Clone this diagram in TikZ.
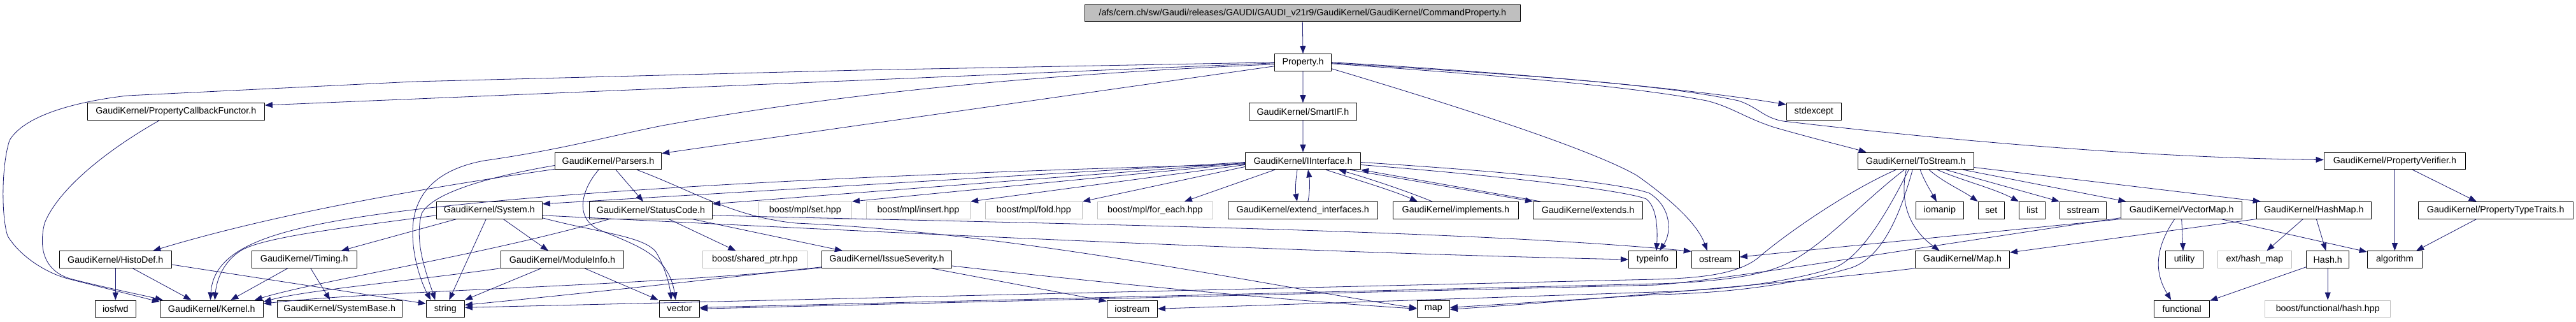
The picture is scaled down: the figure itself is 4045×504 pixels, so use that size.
\documentclass[tikz,border=0pt]{standalone}
\usepackage{fontspec}
\setmainfont{Liberation Sans}
\usetikzlibrary{arrows.meta,calc}
\definecolor{edgec}{RGB}{25,25,112}
\definecolor{grayb}{RGB}{191,191,191}
\begin{document}
\begin{tikzpicture}[x=1pt,y=-1pt,
  nb/.style={draw=black,line width=1.1pt,fill=white,minimum height=26.5pt,inner sep=0pt,font=\fontsize{14.3}{17}\selectfont},
  gb/.style={nb,draw=grayb},
  tb/.style={nb,fill=grayb},
  ed/.style={draw=edgec,line width=0.8pt,-{Triangle[length=12pt,width=9pt]}}]
\fill[white] (0,0) rectangle (4045,504);
\useasboundingbox (0,0) rectangle (4045,504);
% row 0-3
\node[tb,minimum width=684.4] (top) at (2045.3,20.3) {/afs/cern.ch/sw/Gaudi/releases/GAUDI/GAUDI\_v21r9/GaudiKernel/GaudiKernel/CommandProperty.h};
\node[nb,minimum width=89.3] (prop) at (2046,97.8) {Property.h};
\node[nb,minimum width=278] (pcf) at (276.3,175) {GaudiKernel/PropertyCallbackFunctor.h};
\node[nb,minimum width=169] (smartif) at (2045.9,175) {GaudiKernel/SmartIF.h};
\node[nb,minimum width=86.3] (stdexcept) at (2848.3,175) {stdexcept};
\node[nb,minimum width=167.4] (parsers) at (955,252.5) {GaudiKernel/Parsers.h};
\node[nb,minimum width=181.3] (iinterface) at (2046,252.5) {GaudiKernel/IInterface.h};
\node[nb,minimum width=182] (tostream) at (3008.2,252.5) {GaudiKernel/ToStream.h};
\node[nb,minimum width=222.4] (propverifier) at (3760.4,252.5) {GaudiKernel/PropertyVerifier.h};
% row 4
\node[nb,minimum width=166] (system) at (768.3,329.8) {GaudiKernel/System.h};
\node[nb,minimum width=193] (statuscode) at (1022,329.8) {GaudiKernel/StatusCode.h};
\node[gb,minimum width=146.2] (mplset) at (1264.3,329.8) {boost/mpl/set.hpp};
\node[gb,minimum width=163.2] (mplinsert) at (1441.9,329.8) {boost/mpl/insert.hpp};
\node[gb,minimum width=152.1] (mplfold) at (1623.4,329.8) {boost/mpl/fold.hpp};
\node[gb,minimum width=181.1] (mplforeach) at (1813.9,329.8) {boost/mpl/for\_each.hpp};
\node[nb,minimum width=235.2] (extendif) at (2045.8,329.8) {GaudiKernel/extend\_interfaces.h};
\node[nb,minimum width=197] (implements) at (2285.9,329.8) {GaudiKernel/implements.h};
\node[nb,minimum width=171.9] (extends) at (2493.5,329.8) {GaudiKernel/extends.h};
\node[nb,minimum width=75] (iomanip) at (3045.9,329.8) {iomanip};
\node[nb,minimum width=41] (set) at (3126.8,329.8) {set};
\node[nb,minimum width=41.1] (list) at (3191,329.8) {list};
\node[nb,minimum width=73.2] (sstream) at (3271,329.8) {sstream};
\node[nb,minimum width=189.6] (vectormap) at (3425.7,329.8) {GaudiKernel/VectorMap.h};
\node[nb,minimum width=180] (hashmap) at (3633.3,329.8) {GaudiKernel/HashMap.h};
\node[nb,minimum width=243.3] (proptypetraits) at (3918.7,329.8) {GaudiKernel/PropertyTypeTraits.h};
% row 5
\node[nb,minimum width=176] (histodef) at (181.3,407) {GaudiKernel/HistoDef.h};
\node[nb,minimum width=165] (timing) at (477.8,407) {GaudiKernel/Timing.h};
\node[nb,minimum width=193.1] (moduleinfo) at (882.9,407) {GaudiKernel/ModuleInfo.h};
\node[gb,minimum width=164.2] (sharedptr) at (1185.3,407) {boost/shared\_ptr.hpp};
\node[nb,minimum width=204] (issueseverity) at (1392.4,407) {GaudiKernel/IssueSeverity.h};
\node[nb,minimum width=75.1] (typeinfo) at (2595,407) {typeinfo};
\node[nb,minimum width=75] (ostream) at (2693.8,407) {ostream};
\node[nb,minimum width=147.9] (maph) at (3081.5,407) {GaudiKernel/Map.h};
\node[nb,minimum width=59.3] (utility) at (3430,407) {utility};
\node[gb,minimum width=115.9] (exthashmap) at (3540.5,407) {ext/hash\_map};
\node[nb,minimum width=67] (hashh) at (3655.2,407) {Hash.h};
\node[nb,minimum width=86.4] (algorithm) at (3760.4,407) {algorithm};
% row 6
\node[nb,minimum width=64] (iosfwd) at (181.3,484.3) {iosfwd};
\node[nb,minimum width=162] (kernel) at (332.3,484.3) {GaudiKernel/Kernel.h};
\node[nb,minimum width=196] (systembase) at (533.3,484.3) {GaudiKernel/SystemBase.h};
\node[nb,minimum width=60] (string) at (699.3,484.3) {string};
\node[nb,minimum width=63.2] (vector) at (1066.9,484.3) {vector};
\node[nb,minimum width=79] (iostream) at (1777.8,484.3) {iostream};
\node[nb,minimum width=51] (map) at (2250.8,484.3) {map};
\node[nb,minimum width=86.9] (functional) at (3426.2,484.3) {functional};
\node[gb,minimum width=197.1] (boosthash) at (3655.2,484.3) {boost/functional/hash.hpp};

% edges: Property.h
\draw[ed] (top.south) -- (prop.north);
\draw[ed] (prop.west) -- (1350,110) -- (650,128) -- (200,150) .. controls (130,158) and (40,178) .. (15,220) .. controls (2,260) and (2,340) .. (12,370) .. controls (30,400) and (70,428) .. (110,438) -- ($(kernel.north west)+(0,3)$);
\draw[ed] ($(prop.west)+(0,1)$) -- ($(pcf.east)+(0,-10)$);
\draw[ed] ($(prop.west)+(0,3)$) .. controls (1600,118) and (1300,150) .. (1040,197) .. controls (950,215) and (880,235) .. (760,252) .. controls (690,265) and (650,300) .. (648,360) .. controls (647,400) and (660,440) .. ($(string.north)+(-23,0)$);
\draw[ed] ($(prop.west)+(0,6)$) -- ($(parsers.east)+(0,-12)$);
\draw[ed] (prop.south) -- (smartif.north);
\draw[ed] (smartif.south) -- (iinterface.north);
\draw[ed] (prop.east) .. controls (2350,112) and (2650,138) .. ($(stdexcept.west)+(0,-11)$);
\draw[ed] ($(prop.east)+(0,2)$) .. controls (2350,118) and (2560,135) .. (2680,158) .. controls (2720,168) and (2740,185) .. (2787,200) .. controls (2850,218) and (2900,230) .. ($(tostream.north west)+(14,0)$);
\draw[ed] ($(prop.east)+(0,1)$) .. controls (2350,115) and (2600,130) .. (2730,158) .. controls (2760,168) and (2770,185) .. (2800,190) .. controls (3100,225) and (3400,248) .. ($(propverifier.west)+(0,-2)$);
\draw[ed] ($(prop.east)+(0,10)$) .. controls (2300,170) and (2500,235) .. (2570,275) .. controls (2620,310) and (2665,350) .. ($(ostream.north)+(-13,0)$);
% IInterface
\draw[ed] ($(iinterface.east)+(0,2)$) .. controls (2350,268) and (2540,285) .. (2590,303) .. controls (2625,325) and (2625,365) .. ($(typeinfo.north)+(11,0)$);
\draw[ed] ($(iinterface.east)+(0,6)$) .. controls (2350,275) and (2550,298) .. (2585,312) .. controls (2602,325) and (2603,360) .. ($(typeinfo.north)+(6,0)$);
\draw[ed] ($(iinterface.west)+(0,5)$) .. controls (1300,275) and (750,305) .. (520,348) .. controls (400,370) and (335,400) .. ($(kernel.north)+(-2,0)$);
\draw[ed] ($(iinterface.west)+(0,2)$) -- ($(system.east)+(0,-10)$);
\draw[ed] ($(iinterface.west)+(0,3)$) -- ($(statuscode.east)+(0,-10)$);
\draw[ed] ($(iinterface.west)+(0,4)$) -- (mplset.north east);
\draw[ed] ($(iinterface.west)+(0,6)$) -- (mplinsert.north east);
\draw[ed] ($(iinterface.west)+(0,9)$) -- (mplfold.north east);
\draw[ed] ($(iinterface.south west)+(47,0)$) -- ($(mplforeach.north)+(46,0)$);
\draw[ed] ($(iinterface.south)+(-9,0)$) .. controls (2034,285) and (2034,300) .. ($(extendif.north)+(-9,0)$);
\draw[ed] ($(extendif.north)+(8,0)$) .. controls (2057,300) and (2057,285) .. ($(iinterface.south)+(8,0)$);
\draw[ed] ($(iinterface.south)+(36,0)$) .. controls (2140,285) and (2190,300) .. ($(implements.north)+(-60,0)$);
\draw[ed] ($(implements.north)+(-37,0)$) .. controls (2210,300) and (2150,280) .. ($(iinterface.south)+(56,0)$);
\draw[ed] ($(iinterface.south)+(74,0)$) -- (extends.north west);
\draw[ed] ($(extends.north west)+(12,0)$) -- (iinterface.south east);
% System
\draw[ed] ($(system.east)+(0,8)$) .. controls (1300,360) and (2000,395) .. (typeinfo.west);
\draw[ed] ($(system.west)+(0,8)$) .. controls (560,355) and (420,370) .. (380,392) .. controls (350,410) and (340,440) .. ($(kernel.north)+(5,0)$);
\draw[ed] ($(system.south west)+(32,0)$) -- ($(timing.north east)+(-25,0)$);
\draw[ed] ($(system.south)+(-5,0)$) -- ($(string.north)+(6,0)$);
\draw[ed] ($(system.south)+(22,0)$) -- ($(moduleinfo.north)+(-22,0)$);
\draw[ed] ($(system.east)+(0,12)$) .. controls (940,365) and (1010,370) .. (1030,395) .. controls (1045,420) and (1052,450) .. ($(vector.north)+(-13,0)$);
% StatusCode
\draw[ed] ($(statuscode.east)+(0,8)$) .. controls (1600,350) and (2300,360) .. ($(ostream.north west)+(0,1)$);
\draw[ed] ($(statuscode.south west)+(32,0)$) .. controls (760,400) and (500,440) .. ($(kernel.north east)+(-14,0)$);
\draw[ed] ($(statuscode.south)+(28,0)$) -- ($(sharedptr.north)+(-30,0)$);
\draw[ed] ($(statuscode.south)+(65,0)$) -- ($(issueseverity.north west)+(33,0)$);
% Parsers
\draw[ed] ($(parsers.south)+(45,0)$) .. controls (1090,300) and (1150,340) .. (1250,350) .. controls (1600,365) and (2000,450) .. ($(map.west)+(0,-1)$);
\draw[ed] ($(parsers.south)+(-15,0)$) .. controls (915,295) and (900,340) .. (940,360) .. controls (1000,385) and (1050,400) .. ($(vector.north)+(-6,0)$);
\draw[ed] ($(parsers.west)+(0,7)$) .. controls (780,275) and (680,300) .. (662,335) .. controls (650,380) and (670,430) .. ($(string.north)+(-16,0)$);
\draw[ed] ($(parsers.south west)+(0,-1)$) .. controls (700,290) and (450,330) .. ($(histodef.north)+(59,0)$);
\draw[ed] ($(parsers.south)+(12,0)$) -- ($(statuscode.north)+(-12,0)$);
% IssueSeverity
\draw[ed] ($(issueseverity.east)+(0,10)$) .. controls (1700,440) and (2000,470) .. (map.west);
\draw[ed] ($(issueseverity.south)+(70,0)$) -- ($(iostream.north west)+(0,2)$);
\draw[ed] ($(issueseverity.south west)+(0,-2)$) .. controls (1100,440) and (900,462) .. ($(string.east)+(0,-6)$);
\draw[ed] ($(issueseverity.south west)+(0,-1)$) .. controls (1000,450) and (600,455) .. ($(kernel.east)+(0,-8)$);
% ModuleInfo
\draw[ed] (moduleinfo.south west) .. controls (650,440) and (480,455) .. ($(kernel.east)+(0,-11)$);
\draw[ed] ($(moduleinfo.south)+(-33,0)$) -- (string.north east);
\draw[ed] ($(moduleinfo.south)+(35,0)$) -- ($(vector.north west)+(-1,0)$);
% left
\draw[ed] ($(pcf.south)+(-26,0)$) .. controls (160,240) and (90,300) .. (70,350) .. controls (60,390) and (70,425) .. (110,437) .. controls (160,450) and (220,462) .. ($(kernel.north west)+(5,0)$);
\draw[ed] (histodef.south) -- (iosfwd.north);
\draw[ed] ($(histodef.south)+(27,0)$) -- ($(kernel.north)+(-32,0)$);
\draw[ed] ($(histodef.east)+(0,8)$) -- ($(string.west)+(0,-8)$);
\draw[ed] ($(timing.south)+(-26,0)$) -- ($(kernel.north)+(30,0)$);
\draw[ed] ($(timing.south)+(10,0)$) -- ($(systembase.north)+(-15,0)$);
% ToStream
\draw[ed] ($(tostream.south)+(-31,0)$) .. controls (2900,300) and (2800,370) .. (2760,405) .. controls (2730,428) and (2680,436) .. (2600,438) -- ($(string.east)+(0,-2)$);
\draw[ed] ($(tostream.south)+(-18,0)$) .. controls (2920,320) and (2850,400) .. (2790,420) .. controls (2750,435) and (2680,443) .. (2600,445) -- ($(vector.east)+(0,-2)$);
\draw[ed] ($(tostream.south)+(-11,0)$) .. controls (2960,340) and (2920,405) .. (2880,420) .. controls (2800,445) and (2700,455) .. (2600,458) -- (iostream.east);
\draw[ed] ($(tostream.south)+(-5,0)$) .. controls (2980,350) and (2950,410) .. (2900,422) .. controls (2800,450) and (2700,460) .. (2600,462) -- ($(map.east)+(0,-2)$);
\draw[ed] ($(tostream.south)+(-15,0)$) .. controls (2982,320) and (3000,360) .. ($(maph.north)+(-36,0)$);
\draw[ed] ($(tostream.south)+(7,0)$) .. controls (3022,285) and (3032,300) .. ($(iomanip.north)+(-5,0)$);
\draw[ed] ($(tostream.south)+(21,0)$) .. controls (3050,285) and (3080,298) .. (set.north west);
\draw[ed] ($(tostream.south)+(34,0)$) .. controls (3080,283) and (3130,295) .. (list.north west);
\draw[ed] ($(tostream.south)+(47,0)$) -- (sstream.north west);
\draw[ed] ($(tostream.south east)+(-17,0)$) -- ($(vectormap.north west)+(8,0)$);
\draw[ed] ($(tostream.east)+(0,10)$) -- ($(hashmap.north west)+(7,0)$);
% Map.h
\draw[ed] (maph.south west) .. controls (2850,440) and (2500,470) .. ($(map.east)+(0,1)$);
% VectorMap
\draw[ed] (vectormap.south) -- ($(utility.north)+(-2,0)$);
\draw[ed] ($(vectormap.south)+(-11,0)$) .. controls (3390,380) and (3378,420) .. ($(functional.north)+(-17,0)$);
\draw[ed] ($(vectormap.south)+(62,0)$) -- ($(algorithm.west)+(0,-12)$);
\draw[ed] (vectormap.south west) -- ($(ostream.east)+(0,-4)$);
\draw[ed] ($(vectormap.south west)+(0,-2)$) .. controls (3000,390) and (2700,440) .. (2600,447) -- (vector.east);
% HashMap, Hash.h
\draw[ed] ($(hashmap.south)+(-17,0)$) -- ($(exthashmap.north)+(19,0)$);
\draw[ed] ($(hashmap.south)+(4,0)$) -- ($(hashh.north)+(-3,0)$);
\draw[ed] (hashmap.south west) -- ($(maph.east)+(0,-11)$);
\draw[ed] ($(hashh.south west)+(0,-2)$) -- ($(functional.north east)+(0,1)$);
\draw[ed] (hashh.south) -- (boosthash.north);
% PropertyVerifier
\draw[ed] (propverifier.south) -- (algorithm.north);
\draw[ed] ($(propverifier.south)+(28,0)$) -- ($(proptypetraits.north)+(-30,0)$);
\draw[ed] ($(proptypetraits.south)+(-30,0)$) -- ($(algorithm.north east)+(-10,0)$);
\end{tikzpicture}
\end{document}
